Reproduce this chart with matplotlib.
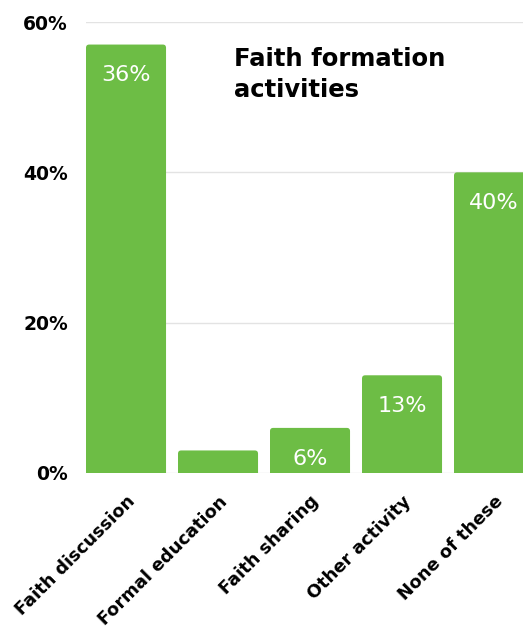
import matplotlib.pyplot as plt
from matplotlib.patches import FancyBboxPatch

categories = ["Faith discussion", "Formal education", "Faith sharing",
              "Other activity", "None of these"]
values = [57, 3, 6, 13, 40]
value_labels = ["36%", "", "6%", "13%", "40%"]
y_ticks = [0, 20, 40, 60]

green = "#6dbd45"
plt.rcParams['font.family'] = ['DejaVu Sans']

fig = plt.figure(figsize=(5.23, 6.28), dpi=100)
ax = fig.add_axes([86 / 523, 1 - 473 / 628, (523 - 86) / 523, (473 - 22) / 628])

x = list(range(len(categories)))
bars = ax.bar(x, values, width=0.87, color=green, alpha=0)

# rounded bars, drawn over the plain bar geometry
for b in bars:
    patch = FancyBboxPatch((b.get_x(), -2), b.get_width(), b.get_height() + 2,
                           boxstyle="round,pad=0,rounding_size=0.035",
                           mutation_aspect=12.2, facecolor=green,
                           edgecolor="none", zorder=2)
    ax.add_patch(patch)

for b, lab in zip(bars, value_labels):
    if lab:
        ax.annotate(lab, (b.get_x() + b.get_width() / 2, b.get_height()),
                    xytext=(0, -15), textcoords="offset points",
                    ha="center", va="top", color="white", fontsize=16,
                    zorder=3)

ax.set_xlim(-0.435, 4.315)
ax.set_ylim(0, 60)
ax.set_yticks(y_ticks)
ax.set_yticklabels([f"{t}%" for t in y_ticks], fontsize=13.5, fontweight="bold")
ax.tick_params(axis="y", length=0, pad=13)
ax.grid(axis="y", color="#e3e3e3", linewidth=1, zorder=0)
ax.set_axisbelow(True)
for s in ax.spines.values():
    s.set_visible(False)

ax.set_xticks(x)
ax.set_xticklabels(categories, rotation=45, ha="right", va="top",
                   rotation_mode="anchor", fontsize=12.8, fontweight="bold")
ax.tick_params(axis="x", length=0, pad=14)

fig.text(234 / 523, 1 - 47 / 628, "Faith formation\nactivities",
         ha="left", va="top", fontsize=17.5, fontweight="bold",
         linespacing=1.35)

fig.savefig("out.png", dpi=100)
